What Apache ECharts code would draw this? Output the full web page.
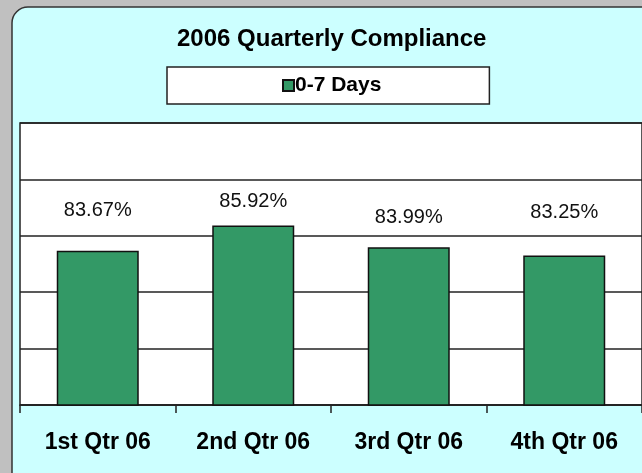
<!DOCTYPE html>
<html>
<head>
<meta charset="utf-8">
<title>2006 Quarterly Compliance</title>
<script src="https://cdn.jsdelivr.net/npm/echarts@6/dist/echarts.min.js"></script>
<style>
  html, body { margin: 0; padding: 0; background: #c0c0c0; }
  #main { width: 642px; height: 473px; }
</style>
</head>
<body>
<div id="main"></div>
<script>
// data
var quarters = ['1st Qtr 06', '2nd Qtr 06', '3rd Qtr 06', '4th Qtr 06']
var compliance = [83.67, 85.92, 83.99, 83.25]
var seriesName = '0-7 Days'

// Excel placed the data labels at uneven heights above the bars
var labelGap = [30, 14, 20, 33]

var font = '"Liberation Sans", Arial, sans-serif'

var myChart = echarts.init(document.getElementById('main'))

var option = {
  backgroundColor: '#c0c0c0',
  animation: false,
  graphic: [
    {
      type: 'rect',
      z: -10,
      shape: { x: 12, y: 7, width: 700, height: 600, r: 16 },
      style: { fill: '#ccffff', stroke: '#333333', lineWidth: 1.5 }
    }
  ],
  title: {
    text: '2006 Quarterly Compliance',
    left: 177,
    top: 27,
    padding: 0,
    textStyle: { fontFamily: font, fontSize: 24, fontWeight: 'bold', color: '#000' }
  },
  legend: {
    data: [seriesName],
    top: 67,
    left: 167,
    padding: [8, 108, 8, 115],
    backgroundColor: '#fff',
    borderColor: '#222',
    borderWidth: 1.5,
    borderRadius: 0,
    icon: 'rect',
    itemWidth: 11,
    itemHeight: 11,
    itemGap: 0,
    selectedMode: false,
    textStyle: { fontFamily: font, fontSize: 21, fontWeight: 'bold', color: '#000', padding: [0, 0, 0, -4] }
  },
  grid: {
    show: true,
    left: 20,
    right: -10,
    top: 123,
    bottom: 68,
    backgroundColor: '#fff',
    borderColor: '#222',
    borderWidth: 1.5,
    containLabel: false
  },
  xAxis: {
    type: 'category',
    data: quarters,
    axisLine: { lineStyle: { color: '#222', width: 1.5 } },
    axisTick: { show: true, length: 8, lineStyle: { color: '#222', width: 1.5 } },
    axisLabel: {
      margin: 26,
      fontFamily: font,
      fontSize: 23,
      fontWeight: 'bold',
      color: '#000'
    }
  },
  yAxis: {
    type: 'value',
    min: 70,
    max: 95,
    interval: 5,
    axisLine: { show: false },
    axisTick: { show: false },
    axisLabel: { show: false },
    splitLine: { lineStyle: { color: '#222', width: 1.5 } }
  },
  series: [
    {
      name: seriesName,
      type: 'bar',
      barWidth: 82,
      itemStyle: { color: '#339966', borderColor: '#111', borderWidth: 1.5 },
      data: compliance.map(function (v, i) {
        return {
          value: v,
          label: { distance: labelGap[i] }
        }
      }),
      label: {
        show: true,
        position: 'top',
        formatter: function (p) { return p.value.toFixed(2) + '%' },
        fontFamily: font,
        fontSize: 20,
        color: '#111'
      }
    }
  ]
}

myChart.setOption(option)
</script>
</body>
</html>
